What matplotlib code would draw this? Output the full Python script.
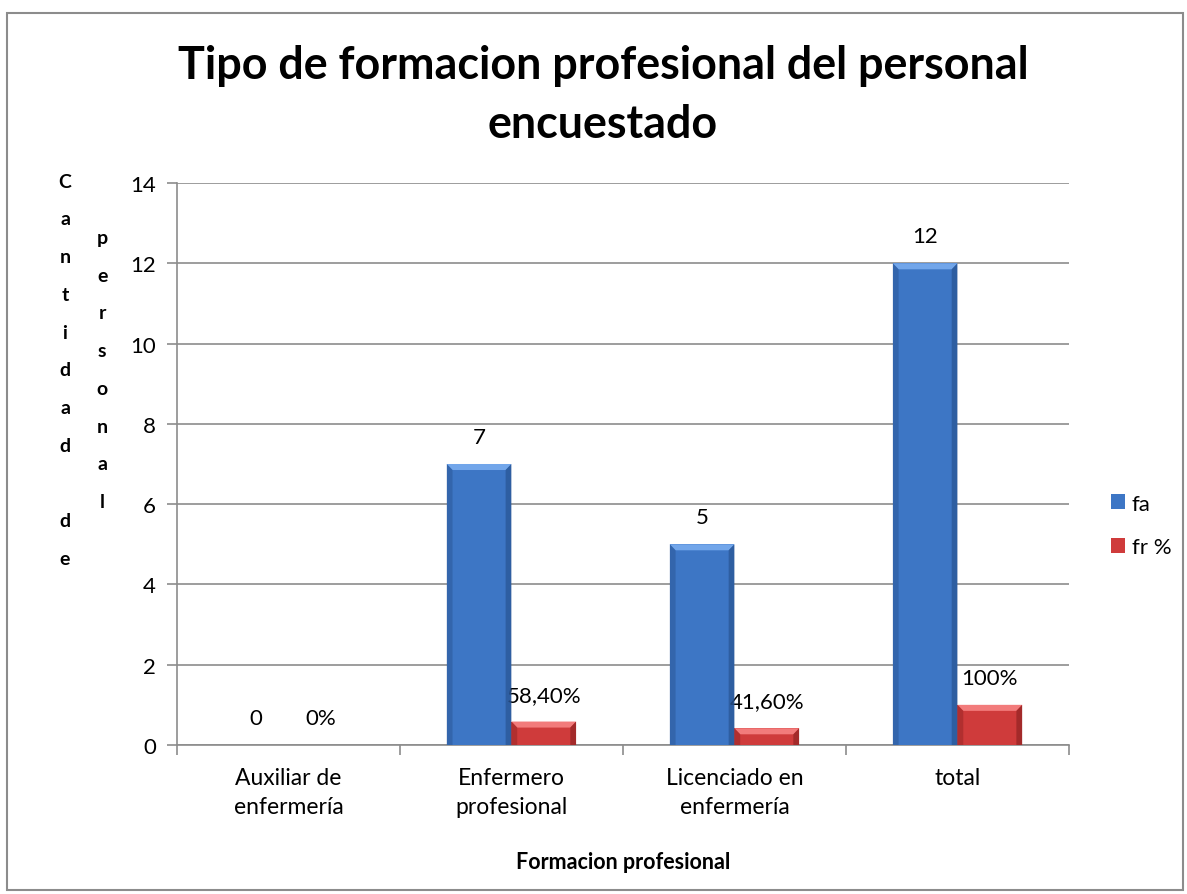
import numpy as np
import matplotlib.pyplot as plt
from matplotlib.patches import Rectangle, Polygon

categorias = ["Auxiliar de\nenfermería", "Enfermero\nprofesional", "Licenciado en\nenfermería", "total"]
fa = [0, 7, 5, 12]
fr = [0.0, 0.584, 0.416, 1.0]
fa_lbl = ["0", "7", "5", "12"]
fr_lbl = ["0%", "58,40%", "41,60%", "100%"]

plt.rcParams['font.family'] = ['Lato', 'DejaVu Sans']

fig = plt.figure(figsize=(11.87, 8.95), dpi=100)
ax = fig.add_axes([0.149, 0.1665, 0.7516, 0.6279])

# marco del grafico
fig.patches.append(Rectangle((0.006, 0.005), 0.991, 0.979, transform=fig.transFigure,
                             fill=False, edgecolor='#8c8c8c', linewidth=1.5))

x = np.arange(len(categorias))
w = 0.29
b1 = ax.bar(x - w/2, fa, w, color='#3d76c5', linewidth=0, label='fa', zorder=3)
b2 = ax.bar(x + w/2, fr, w, color='#cf3b3b', linewidth=0, label='fr %', zorder=3)

# bisel estilo excel
dx, dy = 0.026, 0.15
for bars, claro, oscuro in ((b1, '#72a6ea', '#2b5898'), (b2, '#f27b7b', '#992626')):
    for b in bars:
        h = b.get_height()
        if h <= 0:
            continue
        x0, x1 = b.get_x(), b.get_x() + b.get_width()
        t = min(dy, h * 0.4)
        ax.add_patch(Polygon([(x0, h), (x1, h), (x1 - dx, h - t), (x0 + dx, h - t)],
                             closed=True, color=claro, lw=0, zorder=4))
        ax.add_patch(Polygon([(x0, 0), (x0, h), (x0 + dx, h - t), (x0 + dx, 0)],
                             closed=True, color=oscuro, alpha=0.55, lw=0, zorder=4))
        ax.add_patch(Polygon([(x1, 0), (x1, h), (x1 - dx, h - t), (x1 - dx, 0)],
                             closed=True, color=oscuro, alpha=0.8, lw=0, zorder=4))

for i in range(len(x)):
    ax.text(x[i] - w/2, fa[i] + 0.42, fa_lbl[i], ha='center', va='bottom', fontsize=16)
    ax.text(x[i] + w/2, fr[i] + 0.42, fr_lbl[i], ha='center', va='bottom', fontsize=16)

ax.set_ylim(0, 14)
ax.set_xlim(-0.5, 3.5)
ax.set_yticks(range(0, 15, 2))
ax.yaxis.grid(True, color='#8c8c8c', linewidth=1.2, zorder=0)
ax.set_axisbelow(True)
ax.set_xticks([])
ax.set_xticks(np.arange(-0.5, 4, 1), minor=True)
ax.tick_params(axis='x', which='minor', length=7, color='#8c8c8c', width=1.2)
ax.tick_params(axis='y', length=7, color='#8c8c8c', width=1.2, labelsize=16, pad=8)
for s in ('top', 'right'):
    ax.spines[s].set_visible(False)
for s in ('left', 'bottom'):
    ax.spines[s].set_color('#8c8c8c')
    ax.spines[s].set_linewidth(1.2)

for i, c in enumerate(categorias):
    ax.text(x[i], -0.55, c, ha='center', va='top', fontsize=16.5, linespacing=1.45)

ax.text(1.5, -2.63, "Formacion profesional", ha='center', va='top', fontsize=15.5, fontweight='bold')

fig.text(0.508, 0.9117, "Tipo de formacion profesional del personal", ha='center', va='baseline',
         fontsize=32.3, fontweight='bold')
fig.text(0.508, 0.8458, "encuestado", ha='center', va='baseline', fontsize=32.3, fontweight='bold')

fig.text(0.0548, 0.806, "C\na\nn\nt\ni\nd\na\nd\n\nd\ne", ha='center', va='top', fontsize=14,
         fontweight='bold', linespacing=2.48)
fig.text(0.086, 0.743, "p\ne\nr\ns\no\nn\na\nl", ha='center', va='top', fontsize=14,
         fontweight='bold', linespacing=2.48)

fig.legend(handles=[b1, b2], labels=['fa', 'fr %'], loc='center left', bbox_to_anchor=(0.919, 0.412),
           frameon=False, fontsize=16, handlelength=0.65, handleheight=0.65, labelspacing=1.05,
           handletextpad=0.3)

fig.savefig('out.png', dpi=100)
